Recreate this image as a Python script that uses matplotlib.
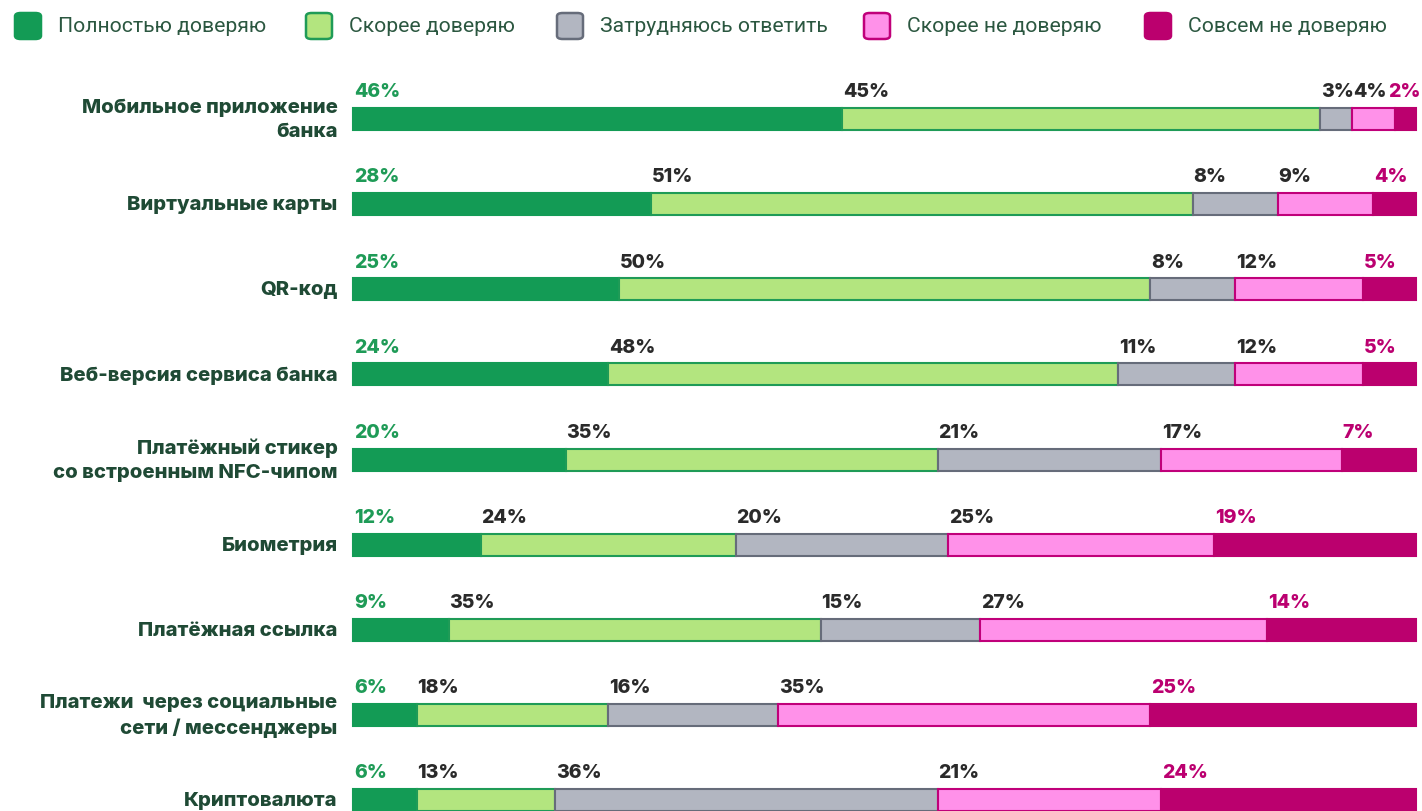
import matplotlib
matplotlib.use("Agg")
import matplotlib.pyplot as plt
from matplotlib.patches import FancyBboxPatch

categories = [
    "Мобильное приложение\nбанка",
    "Виртуальные карты",
    "QR-код",
    "Веб-версия сервиса банка",
    "Платёжный стикер\nсо встроенным NFC-чипом",
    "Биометрия",
    "Платёжная ссылка",
    "Платежи  через социальные\nсети / мессенджеры",
    "Криптовалюта",
]
series_names = ["Полностью доверяю", "Скорее доверяю", "Затрудняюсь ответить",
                "Скорее не доверяю", "Совсем не доверяю"]
full_trust = [46, 28, 25, 24, 20, 12, 9, 6, 6]
rather_trust = [45, 51, 50, 48, 35, 24, 35, 18, 13]
hard_to_say = [3, 8, 8, 11, 21, 20, 15, 16, 36]
rather_distrust = [4, 9, 12, 12, 17, 25, 27, 35, 21]
full_distrust = [2, 4, 5, 5, 7, 19, 14, 25, 24]
series = [full_trust, rather_trust, hard_to_say, rather_distrust, full_distrust]

fills = ["#139B55", "#B3E57F", "#B2B6C1", "#FF91E9", "#BB006E"]
edges = ["#139B55", "#1F9B57", "#666C7A", "#C0007A", "#BB006E"]
label_colors = ["#1F9B57", "#2A2A2A", "#2A2A2A", "#2A2A2A", "#BB0070"]

W, H, DPI = 14.22, 8.12, 100
fig = plt.figure(figsize=(W, H), dpi=DPI)
ax = fig.add_axes([353 / 1422, 0, (1416 - 353) / 1422, (812 - 80) / 812])
ax.set_xlim(0, 100)
ax.set_ylim(8 + 11 / 85.125, -40 / 85.125)
ax.axis("off")

bar_h = 22 / 85.125
lefts = [0] * len(categories)
for si, vals in enumerate(series):
    for i, v in enumerate(vals):
        ax.barh(i, v, left=lefts[i], height=bar_h, color=fills[si],
                edgecolor=edges[si], linewidth=1.5, clip_on=False)
        x = lefts[i]
        if si == 4:
            x = min(x, 97.3)
        ax.annotate(f"{v}%", xy=(x, i - bar_h / 2), xytext=(0.6, 5.5),
                    textcoords="offset points", ha="left", va="bottom",
                    fontsize=14, fontweight="heavy", family="Inter",
                    color=label_colors[si])
        lefts[i] += v

for i, c in enumerate(categories):
    ax.text(-1.45, i, c, ha="right", va="center", fontsize=14.6,
            fontweight="heavy", family="Inter", color="#1F4A35",
            linespacing=1.42, multialignment="right")

# legend
leg_x = [15, 306, 557, 864, 1145]
for k, name in enumerate(series_names):
    x0 = leg_x[k] / 1422
    y0 = 1 - 40 / 812
    box = FancyBboxPatch((x0, y0), 26 / 1422, 26 / 812,
                         boxstyle="round,pad=0,rounding_size=0.004",
                         transform=fig.transFigure, facecolor=fills[k],
                         edgecolor=edges[k], linewidth=1.8)
    fig.patches.append(box)
    fig.text(x0 + 43 / 1422, 1 - 27 / 812, name, ha="left", va="center",
             fontsize=15.2, family="Roboto", color="#2B5740")

fig.savefig("out.png", dpi=DPI)
